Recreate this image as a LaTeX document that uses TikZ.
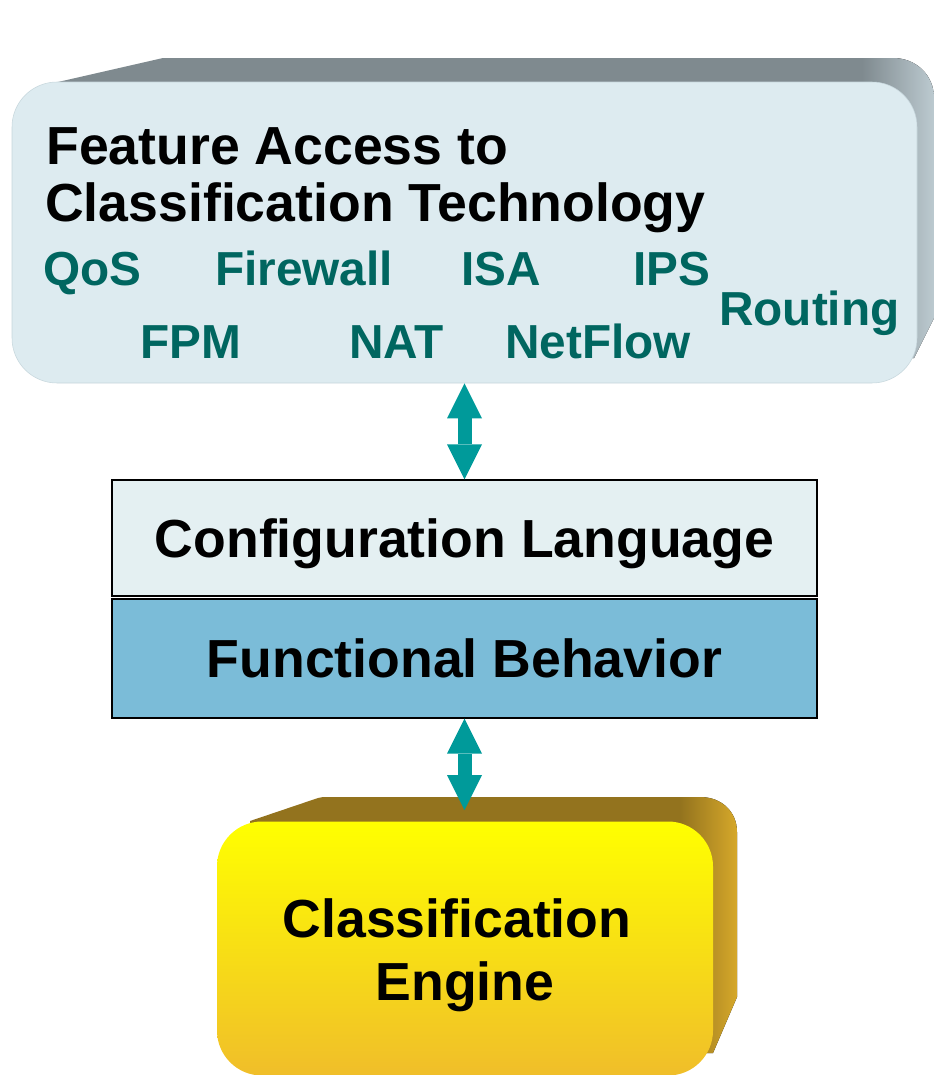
\documentclass[tikz,border=0pt]{standalone}
\usepackage{fontspec}
\setmainfont{Liberation Sans}
\usepackage{tikz}
\usetikzlibrary{positioning, arrows.meta, calc}
\definecolor{frontblue}{HTML}{DDEBF0}
\definecolor{frontedge}{HTML}{C6D6DC}
\definecolor{topgrey}{HTML}{7F8A8F}
\definecolor{sidegrey}{HTML}{BCCAD0}
\definecolor{featteal}{HTML}{006660}
\definecolor{arrowteal}{HTML}{009A9A}
\definecolor{configfill}{HTML}{E4F0F2}
\definecolor{funcfill}{HTML}{7BBCD8}
\definecolor{yellowtop}{HTML}{FFFF00}
\definecolor{yellowbot}{HTML}{F0BE2A}
\definecolor{browntop}{HTML}{93731E}
\definecolor{goldside}{HTML}{D6A82A}

\begin{document}
\begin{tikzpicture}[x=0.75pt, y=-0.75pt,
    bigtext/.style={font=\fontsize{40.2}{48}\selectfont\bfseries, inner sep=0pt},
    featlabel/.style={font=\fontsize{35.8}{42}\selectfont\bfseries, text=featteal, inner sep=0pt, anchor=base west},
    layerbox/.style={draw=black, line width=1.1pt, minimum width=528.75pt},
    dblarrow/.style={draw=arrowteal, line width=10.5pt, >={Triangle[length=26.25pt,width=26.25pt,line width=0pt]}, <->}]
        \useasboundingbox (0,0) rectangle (934,1075);

        % Feature box (back faces first)
        \fill[topgrey] (58,82) -- (163,58) -- (880,58) -- (880,100) -- (58,100) -- cycle;
        \fill[left color=topgrey, right color=sidegrey] (862,58) -- (893,58) .. controls (916,58) and (934,75) .. (934,98) -- (934,318) -- (914,358) -- (862,358) -- cycle;
        \node[draw=frontedge, fill=frontblue, rounded corners=33.75pt, minimum width=678.75pt, minimum height=225.75pt] (feature) at (464.5,232.5) {};
        \node[bigtext, anchor=base west] (title1) at (46,164) {Feature Access to};
        \node[bigtext, anchor=base west] (title2) at (45,221) {Classification Technology};

        % Feature names
        \node[featlabel] (qos) at (43,285) {QoS};
        \node[featlabel] (firewall) at (215,285) {Firewall};
        \node[featlabel] (isa) at (461,285) {ISA};
        \node[featlabel] (ips) at (633,285) {IPS};
        \node[featlabel] (routing) at (719,325) {Routing};
        \node[featlabel] (fpm) at (140,358) {FPM};
        \node[featlabel] (nat) at (349,358) {NAT};
        \node[featlabel] (netflow) at (505,358) {NetFlow};

        % Middle layers
        \node[layerbox, fill=configfill, minimum height=87pt] (config) at (464.5,538) {};
        \node[bigtext, anchor=base] (configtext) at (464.5,557) {Configuration Language};
        \node[layerbox, fill=funcfill, minimum height=89.25pt, below=1pt of config] (func) {};
        \node[bigtext, anchor=base] (functext) at (464.5,677) {Functional Behavior};

        % Engine box (back faces first)
        \fill[browntop] (250,821) -- (318,798) -- (323,797) -- (700,797) -- (700,830) -- (250,830) -- cycle;
        \fill[left color=browntop, right color=goldside] (680,797) -- (700,797) .. controls (722,797) and (737,812) .. (737,832) -- (737,997) -- (713,1053) -- (680,1053) -- cycle;
        \node[top color=yellowtop, bottom color=yellowbot, rounded corners=33.75pt, minimum width=372pt, minimum height=190.5pt] (engine) at (465,948.5) {};
        \node[bigtext, anchor=base] (enginetext1) at (457,937) {Classification};
        \node[bigtext, anchor=base] (enginetext2) at (465,1000) {Engine};

        % Arrows
        \coordinate (enginetip) at (464.5,810);
        \draw[dblarrow] (feature.south) -- (config.north);
        \draw[dblarrow] (func.south) -- (enginetip);
    \end{tikzpicture}
\end{document}
